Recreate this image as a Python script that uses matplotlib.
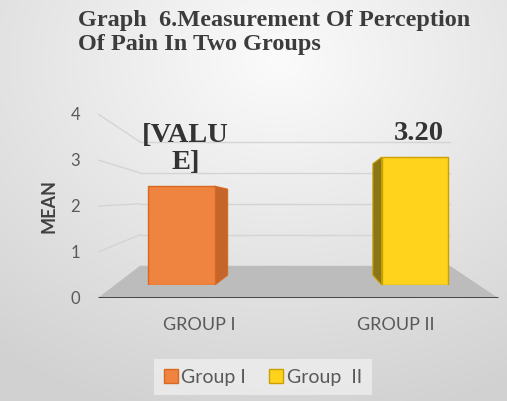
import numpy as np
import matplotlib.pyplot as plt
from matplotlib.patches import Polygon, Patch
from matplotlib.transforms import ScaledTranslation

# data
groups = ["GROUP I", "GROUP II"]
legend_names = ["Group I", "Group  II"]
means = [2.47, 3.20]
value_labels = ["[VALU\nE]", "3.20"]
yticks = [0, 1, 2, 3, 4]

front_cols = ["#EF8440", "#FFD21C"]
edge_cols = ["#D8691F", "#C9A000"]
side_cols = ["#C4662A", "#8A7616"]
txt = "#595959"

W, H = 507, 401
fig = plt.figure(figsize=(W / 100, H / 100), dpi=100)

# soft grey gradient background
bg = fig.add_axes([0, 0, 1, 1])
gx, gy = np.meshgrid(np.linspace(0, 1, 200), np.linspace(0, 1, 160))
r = np.sqrt(((gx - 0.55) / 0.9) ** 2 + ((gy - 0.15) / 0.9) ** 2)
shade = np.clip(0.985 - 0.16 * r, 0.82, 0.985)
bg.imshow(np.dstack([shade] * 3), extent=[0, 1, 0, 1], aspect="auto", origin="upper")
bg.set_axis_off()

x = np.arange(len(groups))
xlim = ((98 - 181.5) / 233.5, (507 - 181.5) / 233.5)

# main axes: tick labels, floor, walls
ax = fig.add_axes([98 / W, (H - 298) / H, 409 / W, 184 / H])
ax.patch.set_alpha(0)
ax.set_xlim(xlim)
ax.set_ylim(0, 4)
for s in ax.spines.values():
    s.set_visible(False)

floor_y = 0.70
back_scale = 0.674
fl, fr = -0.178, 1.15
fbr = (498 - 181.5) / 233.5
floor = Polygon([(xlim[0], 0), (fbr, 0), (fr, floor_y), (fl, floor_y)],
                closed=True, facecolor="#bcbcbc", edgecolor="none", zorder=1)
ax.add_patch(floor)
ax.plot([xlim[0], fbr], [0, 0], color="#3a3a3a", lw=2, zorder=2, solid_capstyle="butt")
for t in yticks[1:]:
    yb = floor_y + back_scale * t
    ax.plot([fl, fr], [yb, yb], color="#d4d4d4", lw=1, zorder=0.5)
    ax.plot([xlim[0], fl], [t, yb], color="#d4d4d4", lw=1, zorder=0.5)

ax.set_yticks(yticks)
ax.set_yticklabels([str(t) for t in yticks], fontsize=12, color=txt, family="Lato")
ax.set_xticks(x)
ax.set_xticklabels(groups, fontsize=13, color=txt, family="Lato")
ax.tick_params(axis="y", length=0, pad=13)
ax.tick_params(axis="x", length=0, pad=14)
for lbl, s in zip(ax.get_xticklabels(), [18, -19]):
    lbl.set_transform(lbl.get_transform() + ScaledTranslation(s / 100, 0, fig.dpi_scale_trans))
ax.set_ylabel("MEAN", fontsize=13, fontweight="bold", color="#404040",
              family="Lato", labelpad=9)

# bar axes (front plane of the 3D bars)
bx = fig.add_axes([98 / W, (H - 285) / H, 409 / W, 160 / H])
bx.set_xlim(xlim)
bx.set_ylim(0, 4)
bx.set_axis_off()

width = 0.285
vp = (0.566, 1.9)
k = 0.13
for i, v in enumerate(means):
    xe = x[i] + width / 2 if x[i] + width / 2 < vp[0] else x[i] - width / 2
    dx = k * (vp[0] - xe)
    side = Polygon([(xe, 0), (xe, v), (xe + dx, v + k * (vp[1] - v)), (xe + dx, k * vp[1])],
                   closed=True, facecolor=side_cols[i], edgecolor=edge_cols[i], lw=0.8, zorder=2)
    bx.add_patch(side)

bx.bar(x, means, width=width, color=front_cols, edgecolor=edge_cols, linewidth=1, zorder=3)

for i, v in enumerate(means):
    bx.annotate(value_labels[i], (x[i], v), xytext=(3, 8), textcoords="offset points",
                ha="center", va="bottom", fontsize=20.5, fontweight="bold",
                family="Liberation Serif", color="#333333", linespacing=1.1, zorder=5)

fig.text(78 / W, 1 - 10 / H, "Graph  6.Measurement Of Perception\nOf Pain In Two Groups",
         ha="left", va="top", fontsize=17.5, fontweight="bold", family="Liberation Serif",
         color="#3c3c3c", linespacing=1.2)

handles = [Patch(facecolor=front_cols[i], edgecolor=edge_cols[i]) for i in range(2)]
leg = fig.legend(handles, legend_names, loc="center", bbox_to_anchor=(263 / W, 1 - 377 / H),
                 ncol=2, frameon=True, handlelength=0.7, handleheight=0.7,
                 handletextpad=0.2, columnspacing=1.2, prop={"family": "Lato", "size": 14},
                 borderpad=0.5, fancybox=False)
leg.get_frame().set_facecolor("#eeeeee")
leg.get_frame().set_edgecolor("none")
for t in leg.get_texts():
    t.set_color(txt)

fig.savefig("out.png", dpi=100)
